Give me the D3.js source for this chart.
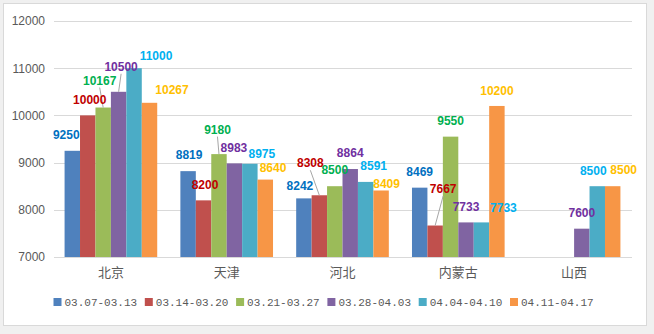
<!DOCTYPE html>
<html><head><meta charset="utf-8">
<script src="https://cdn.jsdelivr.net/npm/d3@7"></script>
<style>
html,body{margin:0;padding:0;background:#f0f0f0;}
svg{display:block;}
</style></head>
<body>
<script>
const categories = ["北京","天津","河北","内蒙古","山西"];
const seriesNames = ["03.07-03.13","03.14-03.20","03.21-03.27","03.28-04.03","04.04-04.10","04.11-04.17"];
const s1 = [9250, 8819, 8242, 8469, null];
const s2 = [10000, 8200, 8308, 7667, null];
const s3 = [10167, 9180, 8500, 9550, null];
const s4 = [10500, 8983, 8864, 7733, 7600];
const s5 = [11000, 8975, 8591, 7733, 8500];
const s6 = [10267, 8640, 8409, 10200, 8500];
const yTicks = [7000, 8000, 9000, 10000, 11000, 12000];

// label nudges (px) relative to bar top centre, and leader-line flags
const labelDx = [[-6,1,-4,0,0],[2,1.5,-9,8,0],[-3.5,-1.5,0,0,0],[2.5,-0.5,0,0,0],[22,12,8,22,-4],[22.5,7.7,5.5,0,11]];
const labelDy = [[-16,-16,-12.6,-15.7,0],[-16,-15.7,-32,-36.5,0],[-27,-24.5,-16,-15.6,0],[-25,-16,-16,-15.4,-16],[-12,-10,-16,-14.7,-15],[-13,-11.6,-7,-15.5,-16]];
const leaders = [[0,0,0,0,0],[0,0,1,1,0],[1,1,0,0,0],[1,0,0,0,0],[0,0,0,0,0],[0,0,0,0,0]];

const series = [s1,s2,s3,s4,s5,s6];
const barColors = ["#4F81BD","#C0504D","#9BBB59","#8064A2","#4BACC6","#F79646"];
const labelColors = ["#0070C0","#C00000","#00B050","#7030A0","#00B0F0","#FFC000"];

const W = 654, H = 334;
const svg = d3.select("body").append("svg").attr("width", W).attr("height", H);
svg.append("rect").attr("x",3.5).attr("y",3.5).attr("width",643).attr("height",322)
  .attr("fill","#fff").attr("stroke","#d9d9d9");

const x = d3.scaleBand().domain(categories).range([53, 632]).paddingInner(0.2).paddingOuter(0.1);
const xs = d3.scaleBand().domain(d3.range(series.length)).range([0, x.bandwidth()]);
const y = d3.scaleLinear().domain([7000, 12000]).range([257, 21]);

// gridlines
svg.append("g").selectAll("line").data(yTicks.slice(1)).join("line")
  .attr("x1",54).attr("x2",632).attr("y1",d=>Math.round(y(d))+0.5).attr("y2",d=>Math.round(y(d))+0.5)
  .attr("stroke","#d9d9d9");

// y axis
const yAxis = svg.append("g").attr("transform","translate(46,0)")
  .call(d3.axisLeft(y).tickValues(yTicks).tickSize(0).tickPadding(1).tickFormat(d3.format("d")));
yAxis.select(".domain").remove();
yAxis.selectAll("text").attr("fill","#595959").style("font-family","Liberation Sans, Arial, sans-serif").style("font-size","12px");

// x axis
const xAxis = svg.append("g").attr("transform",`translate(0,${Math.round(y(7000))+0.5})`)
  .call(d3.axisBottom(x).tickSize(0).tickPadding(10));
xAxis.select(".domain").attr("stroke","#d9d9d9").attr("d","M54,0H632");
xAxis.selectAll("text").attr("fill","#595959").style("font-family","Noto Sans CJK SC, sans-serif").style("font-size","13px");

// bars
const flat = [];
series.forEach((s,si)=>s.forEach((v,ci)=>{ if(v!=null) flat.push({si,ci,v}); }));
svg.append("g").selectAll("rect").data(flat).join("rect")
  .attr("x",d=>x(categories[d.ci])+xs(d.si))
  .attr("width",xs.bandwidth())
  .attr("y",d=>y(d.v))
  .attr("height",d=>y(7000)-y(d.v))
  .attr("fill",d=>barColors[d.si]);

// leader lines
svg.append("g").selectAll("line").data(flat.filter(d=>leaders[d.si][d.ci])).join("line")
  .attr("x1",d=>x(categories[d.ci])+xs(d.si)+xs.bandwidth()/2+labelDx[d.si][d.ci])
  .attr("y1",d=>y(d.v)+labelDy[d.si][d.ci]+7)
  .attr("x2",d=>x(categories[d.ci])+xs(d.si)+xs.bandwidth()/2)
  .attr("y2",d=>y(d.v))
  .attr("stroke","#a6a6a6").attr("stroke-width",1);

// labels
svg.append("g").selectAll("text").data(flat).join("text")
  .attr("x",d=>x(categories[d.ci])+xs(d.si)+xs.bandwidth()/2+labelDx[d.si][d.ci])
  .attr("y",d=>y(d.v)+labelDy[d.si][d.ci])
  .attr("dy","0.35em")
  .attr("text-anchor","middle")
  .attr("fill",d=>labelColors[d.si])
  .style("font-family","Liberation Sans, Arial, sans-serif")
  .style("font-weight","bold").style("font-size","12px")
  .text(d=>d.v);

// legend
const lg = svg.append("g").selectAll("g").data(seriesNames).join("g")
  .attr("transform",(d,i)=>`translate(${53.5+i*91.3},302)`);
lg.append("rect").attr("x",0).attr("y",-4).attr("width",8).attr("height",8).attr("fill",(d,i)=>barColors[i]);
lg.append("text").attr("x",11).attr("y",0).attr("dy","0.35em")
  .attr("fill","#595959").style("font-family","Liberation Mono, monospace").style("font-size","11px")
  .text(d=>d);
</script>
</body></html>
